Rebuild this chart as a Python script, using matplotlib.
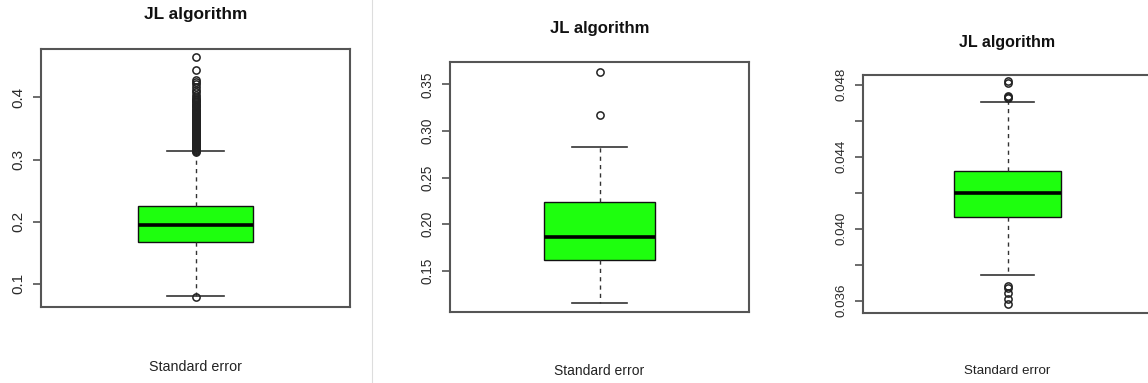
import matplotlib
matplotlib.use("Agg")
import matplotlib.pyplot as plt
from matplotlib.lines import Line2D

plt.rcParams["font.family"] = ["Liberation Sans", "DejaVu Sans"]

W, H = 1148, 383
GREEN = "#1eff0e"

title = "JL algorithm"
xlabel = "Standard error"

# first run: box stats and outliers
p1_box = [0.167, 0.194, 0.225]          # q1, median, q3
p1_whiskers = [0.0797, 0.314]
p1_fliers = [0.0785,
             0.3125, 0.314, 0.3155, 0.317, 0.3185, 0.320, 0.3215, 0.323, 0.3245,
             0.326, 0.3275, 0.329, 0.3305, 0.332, 0.3335, 0.335, 0.3365, 0.338,
             0.3395, 0.341, 0.3425, 0.344, 0.3455, 0.347, 0.3485, 0.350, 0.3515,
             0.353, 0.3545, 0.356, 0.3575, 0.359, 0.3605, 0.362, 0.3635, 0.365,
             0.3665, 0.368, 0.3695, 0.371, 0.3725, 0.374, 0.3755, 0.377, 0.3785,
             0.380, 0.382, 0.384, 0.386, 0.388, 0.390, 0.392, 0.394, 0.396,
             0.398, 0.401, 0.404, 0.408, 0.4125, 0.417, 0.421, 0.4245, 0.428,
             0.4445, 0.4645]
p1_ticks = [0.1, 0.2, 0.3, 0.4]
p1_ticklabels = ["0.1", "0.2", "0.3", "0.4"]

# second run
p2_box = [0.1618, 0.1867, 0.2236]
p2_whiskers = [0.116, 0.2832]
p2_fliers = [0.3175, 0.3632]
p2_ticks = [0.15, 0.20, 0.25, 0.30, 0.35]
p2_ticklabels = ["0.15", "0.20", "0.25", "0.30", "0.35"]

# third run
p3_box = [0.04067, 0.0420, 0.04322]
p3_whiskers = [0.03744, 0.04702]
p3_fliers = [0.0358, 0.03609, 0.03643, 0.03671, 0.03682,
             0.04728, 0.04733, 0.04739, 0.04808, 0.0482]
p3_ticks = [0.036, 0.038, 0.040, 0.042, 0.044, 0.046, 0.048]
p3_ticklabels = ["0.036", "", "0.040", "", "0.044", "", "0.048"]


def box_panel(fig, px, ylim, box, whiskers, fliers, ticks, ticklabels,
              title_y, label_y, title_fs, tick_fs, label_fs):
    # px = left, top, right, bottom in pixels from the top-left corner
    left, top, right, bottom = px
    ax = fig.add_axes([left / W, 1 - bottom / H, (right - left) / W, (bottom - top) / H])
    stats = [{"q1": box[0], "med": box[1], "q3": box[2],
              "whislo": whiskers[0], "whishi": whiskers[1], "fliers": fliers}]
    ax.bxp(stats, positions=[1], widths=0.4, capwidths=0.2, patch_artist=True,
           boxprops=dict(facecolor=GREEN, edgecolor="#111111", linewidth=1.0),
           medianprops=dict(color="black", linewidth=2.6, solid_capstyle="butt"),
           whiskerprops=dict(color="#333333", linewidth=1.0, linestyle=(0, (3, 3))),
           capprops=dict(color="#333333", linewidth=1.2),
           flierprops=dict(marker="o", markerfacecolor="none", markeredgecolor="#222222",
                           markersize=5.2, markeredgewidth=1.1))
    ax.set_xlim(0.46, 1.54)
    ax.set_ylim(*ylim)
    ax.set_xticks([])
    ax.set_yticks(ticks)
    ax.set_yticklabels(ticklabels, rotation=90, va="center", fontsize=tick_fs, color="#2a2a2a")
    ax.tick_params(axis="y", length=6, width=1.1, color="#444444", pad=5)
    for sp in ax.spines.values():
        sp.set_color("#555555")
        sp.set_linewidth(1.5)

    cx = (left + right) / 2
    fig.text(cx / W, 1 - title_y / H, title, ha="center", va="center",
             fontsize=title_fs, fontweight="bold", color="#111111")
    fig.text(cx / W, 1 - label_y / H, xlabel, ha="center", va="center",
             fontsize=label_fs, color="#222222")
    return ax


fig = plt.figure(figsize=(W / 100, H / 100), dpi=100)

box_panel(fig, (41, 49, 350, 307), (0.0624, 0.478), p1_box, p1_whiskers, p1_fliers,
          p1_ticks, p1_ticklabels, 15, 367, 12.4, 11, 10.3)
box_panel(fig, (450, 62, 749, 312), (0.106, 0.3739), p2_box, p2_whiskers, p2_fliers,
          p2_ticks, p2_ticklabels, 29, 371, 12, 9.8, 10)
box_panel(fig, (863, 74.7, 1152, 313.3), (0.0353, 0.04856), p3_box, p3_whiskers, p3_fliers,
          p3_ticks, p3_ticklabels, 42, 371, 11.5, 9.6, 9.6)

# thin separator after the first panel
fig.add_artist(Line2D([372 / W, 372 / W], [0, 1], color="#dddddd", linewidth=0.8))

fig.savefig("out.png", dpi=100)
